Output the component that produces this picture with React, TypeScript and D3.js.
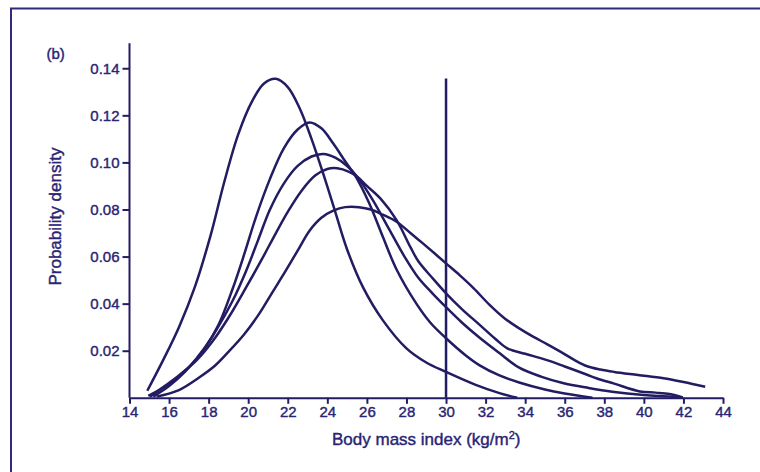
import * as d3 from 'd3';
import React, { useEffect, useRef } from 'react';

// BMI density curves: [bmi, density]
const curveA: [number, number][] = [
    [14.9, 0.003], [15.7, 0.016], [16.5, 0.030], [17.3, 0.047], [18.1, 0.069],
    [18.8, 0.092], [19.5, 0.112], [20.2, 0.126], [20.8, 0.1335], [21.4, 0.1355],
    [22.0, 0.132], [22.6, 0.123], [23.2, 0.110], [23.8, 0.095], [24.4, 0.079],
    [25.0, 0.063], [25.8, 0.047], [26.8, 0.033], [28.0, 0.021], [29.0, 0.015],
    [30.0, 0.011], [31.5, 0.0055], [32.7, 0.002], [33.6, 0.0]
];
const curveB: [number, number][] = [
    [14.95, 0.0008], [16.0, 0.006], [17.0, 0.013], [17.8, 0.021], [18.5, 0.031],
    [19.2, 0.046], [19.8, 0.061], [20.4, 0.077], [21.1, 0.093], [21.8, 0.106],
    [22.5, 0.114], [23.1, 0.117], [23.7, 0.1145], [24.3, 0.108], [24.9, 0.1005],
    [25.4, 0.0945], [26.1, 0.083], [26.8, 0.0685], [27.5, 0.0545], [28.5, 0.040],
    [29.2, 0.032], [30.0, 0.0253], [31.0, 0.018], [31.7, 0.0138], [32.7, 0.0095],
    [33.7, 0.0065], [35.0, 0.0035], [36.0, 0.0018], [37.4, 0.0]
];
const curveC: [number, number][] = [
    [15.2, 0.0005], [16.0, 0.005], [16.8, 0.011], [17.6, 0.019], [18.4, 0.029],
    [19.2, 0.041], [19.9, 0.054], [20.5, 0.067], [21.1, 0.080], [21.8, 0.091],
    [22.5, 0.0985], [23.2, 0.1025], [23.8, 0.1036], [24.4, 0.102], [25.0, 0.0985],
    [25.5, 0.094], [26.3, 0.084], [27.1, 0.072], [27.9, 0.060], [28.6, 0.051],
    [29.3, 0.0445], [30.0, 0.0385], [30.8, 0.032], [31.7, 0.0255], [32.7, 0.019],
    [33.7, 0.0128], [34.8, 0.009], [35.9, 0.0063], [37.2, 0.0042], [38.4, 0.0026],
    [40.0, 0.0012], [41.8, 0.0003]
];
const curveD: [number, number][] = [
    [15.04, 0.0005], [15.7, 0.0045], [16.5, 0.0095], [17.4, 0.016], [18.2, 0.024],
    [19.0, 0.034], [19.9, 0.047], [20.7, 0.059], [21.4, 0.070], [22.0, 0.079],
    [22.7, 0.088], [23.4, 0.0945], [24.0, 0.0972], [24.5, 0.0975], [25.1, 0.096],
    [25.5, 0.094], [26.0, 0.090], [26.7, 0.0845], [27.5, 0.0755], [28.2, 0.064],
    [28.6, 0.058], [29.3, 0.051], [30.0, 0.0444], [30.8, 0.0377], [31.7, 0.031],
    [32.5, 0.025], [33.1, 0.021], [34.0, 0.0187], [35.1, 0.016], [36.0, 0.0133],
    [37.1, 0.0099], [37.6, 0.0083], [38.5, 0.006], [39.8, 0.0027], [40.6, 0.0022],
    [41.3, 0.0016], [41.97, 0.0002]
];
const curveE: [number, number][] = [
    [15.37, 0.0005], [16.5, 0.0033], [17.5, 0.0085], [18.3, 0.0135], [19.0, 0.0195],
    [19.8, 0.027], [20.5, 0.035], [21.2, 0.0445], [21.9, 0.054], [22.5, 0.0625],
    [23.1, 0.071], [23.7, 0.0765], [24.3, 0.0795], [24.9, 0.081], [25.6, 0.081],
    [26.2, 0.080], [26.8, 0.0778], [27.5, 0.0748], [28.2, 0.070], [28.8, 0.0658],
    [29.4, 0.0615], [30.0, 0.0571], [30.7, 0.052], [31.4, 0.0465], [32.2, 0.0395],
    [33.0, 0.0335], [33.7, 0.0295], [34.4, 0.026], [35.1, 0.0228], [35.8, 0.0195],
    [36.5, 0.016], [37.1, 0.0135], [37.8, 0.012], [38.5, 0.011], [39.7, 0.0097],
    [41.0, 0.0083], [42.0, 0.0067], [43.1, 0.0047]
];
const allCurves = [curveA, curveB, curveC, curveD, curveE];

const xTicks = [14, 16, 18, 20, 22, 24, 26, 28, 30, 32, 34, 36, 38, 40, 42, 44];
const yTicks = [0.02, 0.04, 0.06, 0.08, 0.1, 0.12, 0.14];
const cutoffBmi = 30;
const cutoffTop = 0.1356;

const navy = '#221c62';
const textColor = '#2a2472';
const font = '"Liberation Sans", Arial, Helvetica, sans-serif';

const App = () => {
    const ref = useRef<SVGSVGElement>(null);
    const W = 760;
    const H = 472;
    const margin = { top: 43.3, right: 37, bottom: 74.2, left: 129.5 };

    useEffect(() => {
        const svg = d3.select(ref.current);
        svg.selectAll('*').remove();

        const x = d3.scaleLinear().domain([14, 44]).range([margin.left, W - margin.right]);
        const y = d3.scaleLinear().domain([0, 0.1506]).range([H - margin.bottom, margin.top]);

        // text looks a bit heavier in the original, thicken with a hairline stroke
        const styleText = (sel: any, size: number) => sel
            .attr('fill', textColor)
            .attr('stroke', textColor)
            .attr('stroke-width', 0.4)
            .style('font-family', font)
            .style('font-size', `${size}px`);

        // outer frame (top and left edges only)
        svg.append('path')
            .attr('d', `M11,472 L11,8.5 L760,8.5`)
            .attr('fill', 'none')
            .attr('stroke', '#2f2a7c')
            .attr('stroke-width', 2);

        // x axis
        const xAxis = svg.append('g')
            .attr('transform', `translate(0,${y(0)})`)
            .call(d3.axisBottom(x).tickValues(xTicks).tickSize(6).tickPadding(3).tickSizeOuter(0)
                .tickFormat(d => String(d)));
        xAxis.select('.domain').attr('stroke', navy).attr('stroke-width', 2);
        xAxis.selectAll('.tick line').attr('stroke', navy).attr('stroke-width', 2);
        styleText(xAxis.selectAll('.tick text'), 15);

        // y axis
        const yAxis = svg.append('g')
            .attr('transform', `translate(${x(14)},0)`)
            .call(d3.axisLeft(y).tickValues(yTicks).tickSize(7).tickPadding(3).tickSizeOuter(0)
                .tickFormat(d3.format('.2f')));
        yAxis.select('.domain').attr('stroke', navy).attr('stroke-width', 2)
            .attr('d', `M0,${y(0)}V${margin.top}`);
        yAxis.selectAll('.tick line').attr('stroke', navy).attr('stroke-width', 2);
        styleText(yAxis.selectAll('.tick text'), 15);

        // curves
        const line = d3.line<[number, number]>()
            .curve(d3.curveCatmullRom.alpha(0.5))
            .x(d => x(d[0]))
            .y(d => y(d[1]));

        svg.append('g')
            .selectAll('path')
            .data(allCurves)
            .enter().append('path')
            .attr('d', d => line(d))
            .attr('fill', 'none')
            .attr('stroke', navy)
            .attr('stroke-width', 2.5)
            .attr('stroke-linejoin', 'round');

        // obesity cut-off
        svg.append('line')
            .attr('x1', x(cutoffBmi)).attr('x2', x(cutoffBmi))
            .attr('y1', y(0)).attr('y2', y(cutoffTop))
            .attr('stroke', navy)
            .attr('stroke-width', 2.5);

        // labels
        const xLabel = styleText(svg.append('text'), 17)
            .attr('x', (x(14) + x(44)) / 2)
            .attr('y', 445)
            .attr('text-anchor', 'middle');
        xLabel.append('tspan').text('Body mass index (kg/m');
        xLabel.append('tspan').attr('dy', -6).style('font-size', '11px').text('2');
        xLabel.append('tspan').attr('dy', 6).text(')');

        styleText(svg.append('text'), 17)
            .attr('transform', `translate(61,${(y(0) + margin.top) / 2 - 4}) rotate(-90)`)
            .attr('text-anchor', 'middle')
            .text('Probability density');

        styleText(svg.append('text'), 15)
            .attr('x', 46.5)
            .attr('y', 59)
            .text('(b)');
    }, []);

    return (
        <svg ref={ref} width={W} height={H}
            style={{ position: 'absolute', left: 0, top: 0, background: '#fff' }} />
    );
};

export default App;
